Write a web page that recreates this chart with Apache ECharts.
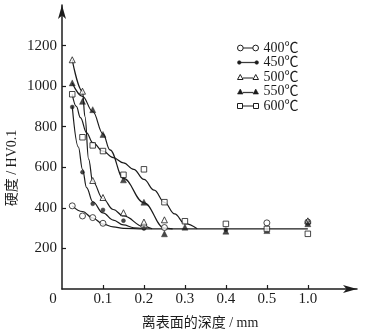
<!DOCTYPE html>
<html>
<head>
<meta charset="utf-8">
<script src="https://cdn.jsdelivr.net/npm/echarts@6/dist/echarts.min.js"></script>
<style>
  html, body { margin: 0; padding: 0; background: #fff; }
  #chart { width: 366px; height: 333px; }
</style>
</head>
<body>
<div id="chart"></div>
<script>
// Depth tick labels (mm) and hardness tick labels (HV0.1)
const depthTicks = [0, 0.1, 0.2, 0.3, 0.4, 0.5, 1.0];
const hvTicks = [200, 400, 600, 800, 1000, 1200];
const temps = ['400℃', '450℃', '500℃', '550℃', '600℃'];

// Measured hardness points for each tempering temperature
const depth400 = [0.025, 0.05, 0.075, 0.1, 0.2, 0.25, 0.5, 1.0];
const hv400    = [410, 360, 352, 324, 308, 303, 326, 330];
const depth450 = [0.025, 0.05, 0.075, 0.1, 0.15, 0.2, 0.4, 1.0];
const hv450    = [897, 576, 420, 390, 337, 298, 292, 330];
const depth500 = [0.025, 0.05, 0.075, 0.1, 0.15, 0.2, 0.25, 1.0];
const hv500    = [1130, 975, 535, 451, 376, 330, 341, 336];
const depth550 = [0.025, 0.05, 0.075, 0.1, 0.15, 0.2, 0.25, 0.3, 0.4, 0.5, 1.0];
const hv550    = [1016, 925, 884, 762, 538, 428, 272, 305, 285, 288, 322];
const depth600 = [0.025, 0.05, 0.075, 0.1, 0.15, 0.2, 0.25, 0.3, 0.4, 0.5, 1.0];
const hv600    = [960, 748, 708, 680, 563, 590, 428, 334, 321, 296, 272];

// Fitted trend curves through the measured points
const fit400X = [0.025, 0.05, 0.075, 0.1, 0.125, 0.15, 0.2, 0.3, 0.4, 0.5, 1.0];
const fit400Y = [410, 382, 350, 320, 306, 299, 296, 296, 296, 296, 296];
const fit450X = [0.025, 0.04, 0.05, 0.06, 0.075, 0.1, 0.125, 0.15, 0.175, 0.2];
const fit450Y = [900, 700, 590, 500, 430, 375, 340, 316, 302, 297];
const fit500X = [0.025, 0.05, 0.056, 0.065, 0.075, 0.1, 0.125, 0.15, 0.2, 0.22];
const fit500Y = [1130, 975, 850, 640, 530, 445, 392, 360, 307, 297];
const fit550X = [0.025, 0.05, 0.075, 0.1, 0.117, 0.15, 0.2, 0.25, 0.27];
const fit550Y = [1016, 950, 875, 765, 686, 545, 425, 300, 296];
const fit600X = [0.025, 0.035, 0.045, 0.06, 0.075, 0.1, 0.125, 0.15, 0.175, 0.2, 0.225, 0.25, 0.275, 0.3, 0.33];
const fit600Y = [960, 900, 845, 770, 722, 680, 648, 622, 590, 540, 487, 427, 370, 322, 297];

// The depth axis is compressed after 0.5 mm: 1.0 mm sits one step after 0.5
function depthToPos(d) { return d <= 0.5 ? d : 0.5 + (d - 0.5) * 0.2; }
function pairs(xs, ys) { return xs.map((x, i) => [depthToPos(x), ys[i]]); }

const ink = '#1c1c1c';
const serif = "'Liberation Serif', 'Noto Sans CJK SC', serif";
const tickPos = depthTicks.map(depthToPos);

const markerDefs = [
  { name: temps[0], xs: depth400, ys: hv400, fx: fit400X, fy: fit400Y, symbol: 'circle', size: 6, open: true,
    icon: 'path://M0.2,3.5A2.8,2.8 0 1 1 5.8,3.5A2.8,2.8 0 1 1 0.2,3.5Z M5.8,3.5L15.2,3.5 M15.2,3.5A2.8,2.8 0 1 1 20.8,3.5A2.8,2.8 0 1 1 15.2,3.5Z' },
  { name: temps[1], xs: depth450, ys: hv450, fx: fit450X, fy: fit450Y, symbol: 'circle', size: 4, open: false,
    icon: 'path://M0,3.5A1.8,1.8 0 1 1 3.6,3.5A1.8,1.8 0 1 1 0,3.5Z M3.6,3.3L17.4,3.3L17.4,3.7L3.6,3.7Z M17.4,3.5A1.8,1.8 0 1 1 21,3.5A1.8,1.8 0 1 1 17.4,3.5Z' },
  { name: temps[2], xs: depth500, ys: hv500, fx: fit500X, fy: fit500Y, symbol: 'triangle', size: 6, open: true,
    icon: 'path://M0,6L2.75,1L5.5,6Z M5.5,4.5L15.5,4.5 M15.5,6L18.25,1L21,6Z' },
  { name: temps[3], xs: depth550, ys: hv550, fx: fit550X, fy: fit550Y, symbol: 'triangle', size: 6, open: false,
    icon: 'path://M0,6L2.75,1L5.5,6Z M5.5,4.3L15.5,4.3L15.5,4.7L5.5,4.7Z M15.5,6L18.25,1L21,6Z' },
  { name: temps[4], xs: depth600, ys: hv600, fx: fit600X, fy: fit600Y, symbol: 'rect', size: 5.5, open: true,
    icon: 'path://M0,1L5,1L5,6L0,6Z M5,3.5L16,3.5 M16,1L21,1L21,6L16,6Z' }
];

const series = [];
markerDefs.forEach(m => {
  series.push({
    name: m.name, type: 'line', data: pairs(m.fx, m.fy),
    smooth: 0.4, smoothMonotone: 'x', showSymbol: false, symbol: 'none',
    lineStyle: { color: ink, width: 1.2 }, itemStyle: { color: ink }, z: 2
  });
  series.push({
    name: m.name, type: 'scatter', data: pairs(m.xs, m.ys),
    symbol: m.symbol, symbolSize: m.size,
    itemStyle: m.open
      ? { color: '#fff', borderColor: ink, borderWidth: 1 }
      : { color: ink, borderColor: ink, borderWidth: 0.5 },
    z: 3
  });
});

const chart = echarts.init(document.getElementById('chart'), null, { renderer: 'canvas' });
chart.setOption({
  animation: false,
  backgroundColor: '#fff',
  grid: { left: 62, right: 9, top: 5, bottom: 44, containLabel: false },
  xAxis: {
    type: 'value', min: 0, max: 0.72, interval: 0.1,
    axisLine: { lineStyle: { color: ink, width: 1.5 }, symbol: ['none', 'arrow'], symbolSize: [6, 14], symbolOffset: [0, 0] },
    axisTick: { inside: true, length: 4, lineStyle: { color: ink, width: 1.2 }, customValues: tickPos.slice(1) },
    splitLine: { show: false },
    axisLabel: {
      customValues: tickPos, margin: 3, color: ink, fontFamily: serif, fontSize: 15,
      formatter: v => {
        const i = tickPos.findIndex(p => Math.abs(p - v) < 1e-6);
        if (i < 0) return '';
        const d = depthTicks[i];
        return d === 0 ? '{z|0}' : d.toFixed(1);
      },
      rich: { z: { fontFamily: serif, fontSize: 15, color: ink, padding: [0, 18, 0, 0] } }
    }
  },
  yAxis: {
    type: 'value', min: 0, max: 1400, interval: 200,
    axisLine: { lineStyle: { color: ink, width: 1.5 }, symbol: ['none', 'arrow'], symbolSize: [6, 14] },
    axisTick: { inside: true, length: 4, lineStyle: { color: ink, width: 1.2 }, customValues: hvTicks },
    splitLine: { show: false },
    axisLabel: { customValues: hvTicks, margin: 5, color: ink, fontFamily: serif, fontSize: 15, formatter: v => String(v) }
  },
  legend: {
    left: 232, top: 36, orient: 'vertical', selectedMode: false,
    itemWidth: 21, itemHeight: 7, itemGap: 0.5,
    textStyle: { fontFamily: serif, fontSize: 14, color: ink, lineHeight: 14 },
    data: markerDefs.map(m => ({
      name: m.name, icon: m.icon,
      itemStyle: m.open
        ? { color: '#fff', borderColor: ink, borderWidth: 1 }
        : { color: ink, borderColor: ink, borderWidth: 0.6 }
    }))
  },
  graphic: [
    { type: 'text', x: 200, y: 323,
      style: { text: '离表面的深度 / mm', fontFamily: serif, fontSize: 14, fill: ink, align: 'center', verticalAlign: 'middle' } },
    { type: 'text', x: 12, y: 168, rotation: Math.PI / 2,
      style: { text: '硬度 / HV0.1', fontFamily: serif, fontSize: 14, fill: ink, align: 'center', verticalAlign: 'middle' } }
  ],
  series: series
});
</script>
</body>
</html>
